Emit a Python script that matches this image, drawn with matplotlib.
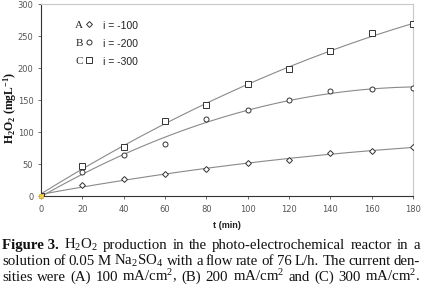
import numpy as np
import matplotlib
matplotlib.use("Agg")
import matplotlib.pyplot as plt

plt.rcParams['mathtext.fontset'] = 'custom'
plt.rcParams['mathtext.rm'] = 'Liberation Serif'
plt.rcParams['mathtext.it'] = 'Liberation Serif:italic'
plt.rcParams['mathtext.bf'] = 'Liberation Serif:bold'

# Data
t = [0, 20, 40, 60, 80, 100, 120, 140, 160, 180]
series_A = [0, 17, 26, 34, 42, 52, 56, 67, 71, 76]
series_B = [0, 37, 64, 81, 121, 134, 150, 164, 167, 168]
series_C = [0, 47, 77, 117, 142, 175, 198, 226, 254, 268]
series_labels = ["A", "B", "C"]
series_currents = ["i = -100", "i = -200", "i = -300"]
x_ticks = [0, 20, 40, 60, 80, 100, 120, 140, 160, 180]
y_ticks = [0, 50, 100, 150, 200, 250, 300]

caption_lines = [
    [("Figure 3.", True), ("H$_2$O$_2$", False), ("production", False), ("in", False), ("the", False),
     ("photo-electrochemical", False), ("reactor", False), ("in", False), ("a", False)],
    [("solution", False), ("of", False), ("0.05", False), ("M", False), ("Na$_2$SO$_4$", False),
     ("with", False), ("a", False), ("flow", False), ("rate", False), ("of", False), ("76", False),
     ("L/h.", False), ("The", False), ("current", False), ("den-", False)],
    [("sities", False), ("were", False), ("(A)", False), ("100", False), ("mA/cm$^2$,", False),
     ("(B)", False), ("200", False), ("mA/cm$^2$", False), ("and", False), ("(C)", False),
     ("300", False), ("mA/cm$^2$.", False)],
]

W, H = 421, 299
fig = plt.figure(figsize=(W / 100, H / 100), dpi=100)
ax = fig.add_axes([41 / W, 1 - 196 / H, (413 - 41) / W, (196 - 4) / H])

markers = ["D", "o", "s"]
msizes = [3.0, 3.6, 4.0]
all_series = [series_A, series_B, series_C]
tt = np.array(t, dtype=float)
xs = np.linspace(0, 180, 200)
for ys, m, ms in zip(all_series, markers, msizes):
    coef = np.polyfit(tt, np.array(ys, dtype=float), 2)
    ax.plot(xs, np.polyval(coef, xs), color="#8a8a8a", lw=0.8, zorder=2)
    ax.plot(t, ys, linestyle="none", marker=m, markersize=ms, markerfacecolor="white",
            markeredgecolor="#333333", markeredgewidth=0.7, zorder=3)
ax.plot([0], [0], linestyle="none", marker="s", markersize=3.5, markerfacecolor="#f2d04a",
        markeredgecolor="#d9a520", markeredgewidth=0.5, zorder=4, clip_on=False)

ax.set_xlim(0, 180)
ax.set_ylim(0, 300)
ax.set_xticks(x_ticks)
ax.set_yticks(y_ticks)
ax.tick_params(axis="both", labelsize=6, colors="#555555", length=2.5, width=0.6, pad=3)
ax.tick_params(axis="x", pad=4)
for s in ["left", "bottom"]:
    ax.spines[s].set_color("#333333")
    ax.spines[s].set_linewidth(0.8)
for s in ["top", "right"]:
    ax.spines[s].set_color("#c8c8c8")
    ax.spines[s].set_linewidth(0.8)

fig.text(227 / W, 1 - 225 / H, "t (min)", ha="center", va="center", fontsize=6.5,
         fontweight="bold", family="Liberation Sans", color="#222222")
fig.text(10 / W, 1 - 108 / H, r"$\mathbf{H_2O_2\ (mgL^{-1})}$", ha="center", va="center",
         rotation=90, fontsize=8.5, color="#111111")

# Legend as text
rows_y = [26, 44, 62]
for lab, cur, m, ms, ry in zip(series_labels, series_currents, markers, msizes, rows_y):
    fig.text(79 / W, 1 - ry / H, lab, ha="center", va="center", fontsize=8,
             family="Liberation Serif", color="#222222")
    fig.text(103 / W, 1 - ry / H, cur, ha="left", va="center", fontsize=7.5,
             family="Liberation Sans", color="#222222")
    ax.plot([89 / W], [1 - (ry - 2) / H], transform=fig.transFigure, marker=m, markersize=ms,
            markerfacecolor="white", markeredgecolor="#333333", markeredgewidth=0.7,
            linestyle="none", clip_on=False)

# Justified caption
renderer = fig.canvas.get_renderer()
left, right = 2, 420
baselines = [249, 265, 281]
fs = 10.7
for words, base in zip(caption_lines, baselines):
    texts = []
    widths = []
    for w, bold in words:
        tx = fig.text(0, 1 - base / H, w, ha="left", va="baseline", fontsize=fs,
                      family="Liberation Serif", fontweight="bold" if bold else "normal",
                      color="#111111")
        bb = tx.get_window_extent(renderer=renderer)
        texts.append(tx)
        widths.append(bb.width)
    gap = ((right - left) - sum(widths)) / (len(words) - 1)
    x = left
    for tx, wd in zip(texts, widths):
        tx.set_x(x / W)
        x += wd + gap

fig.savefig("out.png", dpi=100)
